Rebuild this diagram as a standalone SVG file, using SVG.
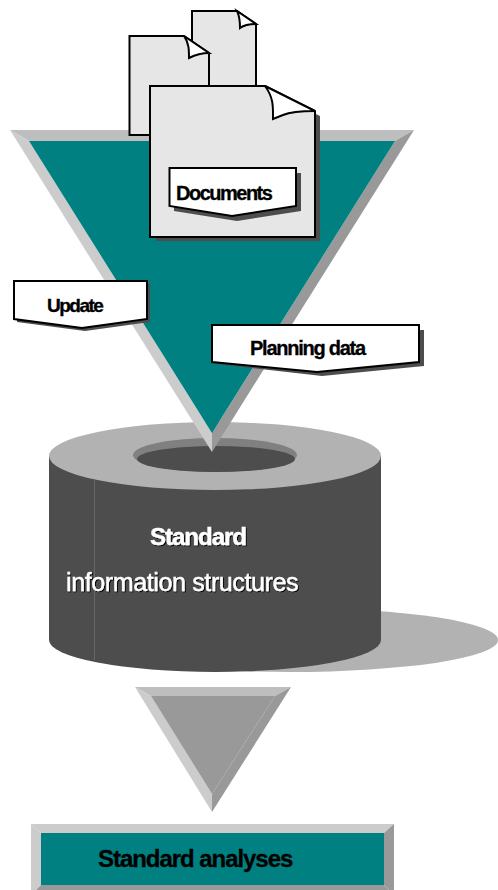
<svg xmlns="http://www.w3.org/2000/svg" width="498" height="890" viewBox="0 0 498 890">
<defs>
<filter id="ts" x="-5%" y="-20%" width="110%" height="140%"><feDropShadow dx="1" dy="1" stdDeviation="0" flood-color="#000"/></filter>
</defs>
<style>
.doc{fill:#e6e6e6;stroke:#000;stroke-width:2;stroke-linejoin:miter}
.fold{fill:#fff;stroke:#000;stroke-width:2;stroke-linejoin:miter}
.tag{fill:#fff;stroke:#000;stroke-width:2}
.sh{fill:#4d4d4d}
text{font-family:"Liberation Sans",Arial,sans-serif}
.lb{fill:#000;stroke:#000;stroke-width:.3}
.w{fill:#fff;stroke:#fff;stroke-width:.4;filter:url(#ts)}
</style>
<rect width="498" height="890" fill="#fff"/>
<g id="cylinder">
<ellipse cx="290" cy="640" rx="208" ry="32" fill="#b2b2b2"/>
<path d="M49,456V640A166,32 0 0 0 381,640V456Z" fill="#4d4d4d"/>
<line x1="94.500" y1="480" x2="94.500" y2="660" stroke="#686868" stroke-width="1"/>
<ellipse cx="215" cy="456" rx="166" ry="34" fill="#b2b2b2"/>
<ellipse cx="215" cy="455" rx="82" ry="17" fill="#808080"/>
<ellipse cx="216" cy="459" rx="79" ry="13" fill="#4d4d4d"/>
<text class="w" x="150" y="545" font-size="24" font-weight="bold" letter-spacing="-1">Standard</text>
<text class="w" x="66" y="591" font-size="25" letter-spacing="-.37">information structures</text>
</g>
<g id="funnel">
<polygon points="10,130 414,130 395,141 29,141" fill="#bebebe"/>
<polygon points="10,130 29,141 212,433 212,452" fill="#cccccc"/>
<polygon points="414,130 395,141 212,433 212,452" fill="#999999"/>
<polygon points="29,141 395,141 212,433" fill="#008080"/>
</g>
<g id="doc-back">
<path class="doc" d="M192,11H237L256,24V135H192Z"/>
<path class="fold" d="M237,11L256,24C249,24 244,25 240,28C240,22 240,17 237,11Z"/>
</g>
<g id="doc-middle">
<path class="doc" d="M129.500,36H184L209,53V135H129.500Z"/>
<path class="fold" d="M184,36L209,53C201,53 195,55 189,58C189,50 189,43 184,36Z"/>
</g>
<g id="doc-front">
<polygon class="sh" points="156,92 270,92 320,116 320,241 156,241"/>
<path class="doc" d="M150,86H265L315,111V237H150Z"/>
<path class="fold" d="M265,86L315,111C302,111 290,112 283,115L273,119C273,108 274,98 265,86Z"/>
</g>
<g id="tag-documents">
<polygon class="sh" points="174,173 301,173 301,211 237,221 174,211"/>
<polygon class="tag" points="169.500,168 296,168 296,206 232,216 169.500,206"/>
<text class="lb" x="176" y="200" font-size="20" font-weight="bold" letter-spacing="-1.500">Documents</text>
</g>
<g id="tag-update">
<polygon class="sh" points="17,284 150,284 150,322 85,331 17,322"/>
<polygon class="tag" points="14,281 147,281 147,319 82,328 14,319"/>
<text class="lb" x="47" y="312" font-size="19" font-weight="bold" letter-spacing="-1.500">Update</text>
</g>
<g id="tag-planning">
<polygon class="sh" points="217,330 424,330 424,366 322,376 217,364"/>
<polygon class="tag" points="212,325 419,325 419,362 317,372 212,362"/>
<text class="lb" x="250" y="355" font-size="20" font-weight="bold" letter-spacing="-1.250">Planning data</text>
</g>
<g id="small-triangle">
<polygon points="135,687 291,687 275,696 151,696" fill="#bebebe"/>
<polygon points="135,687 151,696 212,794 212,812" fill="#cccccc"/>
<polygon points="291,687 275,696 212,794 212,812" fill="#999999"/>
<polygon points="151,696 275,696 212,794" fill="#999999"/>
</g>
<g id="standard-analyses">
<polygon points="31,824 394,824 384,833 41,833" fill="#cccccc"/>
<polygon points="31,824 41,833 41,885 31,895" fill="#cccccc"/>
<polygon points="394,824 384,833 384,885 394,895" fill="#999999"/>
<polygon points="31,895 41,885 384,885 394,895" fill="#999999"/>
<rect x="41" y="833" width="343" height="52" fill="#008080"/>
<text class="lb" x="98" y="867" font-size="24" font-weight="bold" letter-spacing="-1.050">Standard analyses</text>
</g>
</svg>
